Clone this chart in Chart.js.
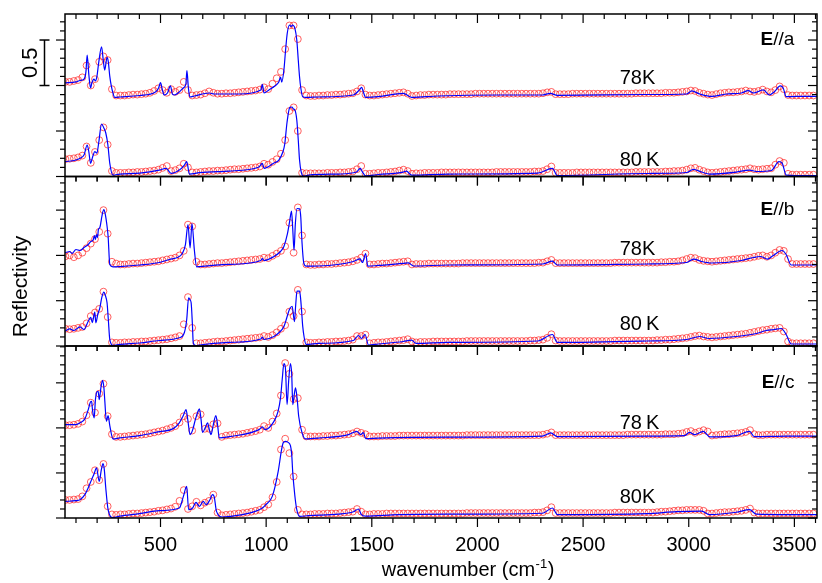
<!DOCTYPE html>
<html>
<head>
<meta charset="utf-8">
<title>Reflectivity spectra</title>
<script src="https://cdn.jsdelivr.net/npm/chart.js@4.4.1/dist/chart.umd.min.js"></script>
<style>
  html, body { margin: 0; padding: 0; background: #fff; }
  #wrap { position: relative; width: 822px; height: 583px; }
</style>
</head>
<body>
<div id="wrap"><canvas id="spectra" width="822" height="583"></canvas></div>
<script>
// wavenumbers (cm-1) of the measured points
const nuGrid = [
  50, 70, 90, 110, 130, 150, 170, 190, 210, 230,
  250, 270, 290, 310, 330, 350, 370, 390, 410, 430,
  450, 470, 490, 510, 530, 550, 570, 590, 610, 630,
  650, 670, 690, 710, 730, 750, 770, 790, 810, 830,
  850, 870, 890, 910, 930, 950, 970, 990, 1010, 1030,
  1050, 1070, 1090, 1110, 1130, 1150, 1170, 1190, 1210, 1230,
  1250, 1270, 1290, 1310, 1330, 1350, 1370, 1390, 1410, 1430,
  1450, 1470, 1490, 1510, 1530, 1550, 1570, 1590, 1610, 1630,
  1650, 1670, 1690, 1710, 1730, 1750, 1770, 1790, 1810, 1830,
  1850, 1870, 1890, 1910, 1930, 1950, 1970, 1990, 2010, 2030,
  2050, 2070, 2090, 2110, 2130, 2150, 2170, 2190, 2210, 2230,
  2250, 2270, 2290, 2310, 2330, 2350, 2370, 2390, 2410, 2430,
  2450, 2470, 2490, 2510, 2530, 2550, 2570, 2590, 2610, 2630,
  2650, 2670, 2690, 2710, 2730, 2750, 2770, 2790, 2810, 2830,
  2850, 2870, 2890, 2910, 2930, 2950, 2970, 2990, 3010, 3030,
  3050, 3070, 3090, 3110, 3130, 3150, 3170, 3190, 3210, 3230,
  3250, 3270, 3290, 3310, 3330, 3350, 3370, 3390, 3410, 3430,
  3450, 3470, 3490, 3510, 3530, 3550, 3570, 3590
];

// measured reflectivity (78K curves shifted up), E//a
const ra78 = [
  1.04, 1.04, 1.05, 1.06, 1.09, 1.22, 1.00, 1.07, 1.26, 1.32,
  1.28, 0.96, 0.89, 0.89, 0.89, 0.895, 0.90, 0.90, 0.905, 0.91,
  0.92, 0.94, 0.97, 0.95, 0.92, 0.96, 0.93, 0.95, 1.04, 0.95,
  0.89, 0.895, 0.90, 0.915, 0.935, 0.92, 0.91, 0.91, 0.915, 0.915,
  0.92, 0.925, 0.93, 0.935, 0.94, 0.945, 0.955, 0.98, 0.96, 1.02,
  1.08, 1.15, 1.40, 1.66, 1.66, 1.51, 0.95, 0.89, 0.885, 0.885,
  0.89, 0.89, 0.895, 0.895, 0.90, 0.90, 0.905, 0.91, 0.915, 0.935,
  0.97, 0.90, 0.89, 0.89, 0.895, 0.90, 0.905, 0.91, 0.915, 0.92,
  0.925, 0.91, 0.885, 0.89, 0.895, 0.895, 0.90, 0.90, 0.90, 0.90,
  0.90, 0.905, 0.905, 0.905, 0.905, 0.905, 0.905, 0.91, 0.91, 0.91,
  0.91, 0.91, 0.91, 0.91, 0.91, 0.91, 0.91, 0.91, 0.91, 0.91,
  0.91, 0.91, 0.91, 0.915, 0.925, 0.93, 0.905, 0.905, 0.905, 0.905,
  0.91, 0.91, 0.91, 0.91, 0.91, 0.91, 0.91, 0.91, 0.91, 0.91,
  0.91, 0.91, 0.91, 0.91, 0.91, 0.915, 0.915, 0.915, 0.915, 0.915,
  0.915, 0.915, 0.92, 0.92, 0.92, 0.925, 0.93, 0.935, 0.945, 0.94,
  0.92, 0.91, 0.90, 0.895, 0.905, 0.915, 0.92, 0.925, 0.925, 0.93,
  0.935, 0.945, 0.935, 0.93, 0.94, 0.955, 0.935, 0.925, 0.95, 0.99,
  0.96, 0.895, 0.89, 0.89, 0.89, 0.89, 0.89, 0.89
];
const ra80 = [
  0.19, 0.195, 0.20, 0.21, 0.23, 0.33, 0.15, 0.27, 0.40, 0.54,
  0.35, 0.06, 0.04, 0.04, 0.04, 0.045, 0.045, 0.05, 0.05, 0.055,
  0.06, 0.065, 0.075, 0.095, 0.115, 0.06, 0.07, 0.09, 0.14, 0.10,
  0.045, 0.045, 0.05, 0.055, 0.06, 0.06, 0.065, 0.065, 0.07, 0.075,
  0.08, 0.08, 0.085, 0.09, 0.095, 0.10, 0.11, 0.14, 0.13, 0.16,
  0.19, 0.25, 0.40, 0.72, 0.76, 0.50, 0.04, 0.035, 0.035, 0.035,
  0.035, 0.035, 0.04, 0.04, 0.04, 0.045, 0.045, 0.05, 0.055, 0.08,
  0.115, 0.03, 0.03, 0.035, 0.04, 0.04, 0.045, 0.05, 0.055, 0.065,
  0.075, 0.06, 0.03, 0.035, 0.035, 0.04, 0.04, 0.04, 0.04, 0.045,
  0.045, 0.045, 0.045, 0.045, 0.045, 0.045, 0.045, 0.045, 0.045, 0.045,
  0.045, 0.045, 0.05, 0.05, 0.05, 0.05, 0.05, 0.05, 0.05, 0.05,
  0.05, 0.055, 0.055, 0.06, 0.08, 0.11, 0.04, 0.04, 0.04, 0.04,
  0.04, 0.045, 0.045, 0.045, 0.045, 0.045, 0.045, 0.045, 0.045, 0.045,
  0.045, 0.045, 0.045, 0.045, 0.045, 0.05, 0.05, 0.05, 0.05, 0.05,
  0.05, 0.05, 0.055, 0.055, 0.06, 0.06, 0.065, 0.075, 0.09, 0.095,
  0.075, 0.06, 0.045, 0.04, 0.045, 0.05, 0.055, 0.06, 0.065, 0.07,
  0.075, 0.08, 0.09, 0.08, 0.075, 0.08, 0.085, 0.09, 0.13, 0.17,
  0.15, 0.03, 0.02, 0.02, 0.02, 0.02, 0.02, 0.02
];

// E//b
const rb78 = [
  0.99, 1.00, 0.98, 1.00, 1.03, 1.08, 1.13, 1.18, 1.26, 1.50,
  1.24, 0.93, 0.91, 0.90, 0.90, 0.905, 0.91, 0.91, 0.915, 0.92,
  0.925, 0.93, 0.935, 0.945, 0.955, 0.965, 0.975, 1.00, 1.05, 1.34,
  1.32, 0.93, 0.90, 0.90, 0.905, 0.91, 0.915, 0.915, 0.92, 0.925,
  0.93, 0.935, 0.94, 0.945, 0.95, 0.955, 0.96, 0.975, 0.97, 0.995,
  1.02, 1.05, 1.10, 1.36, 1.03, 1.53, 1.22, 0.90, 0.895, 0.895,
  0.90, 0.90, 0.905, 0.905, 0.91, 0.915, 0.92, 0.925, 0.935, 0.95,
  0.975, 1.02, 0.90, 0.90, 0.905, 0.91, 0.91, 0.915, 0.92, 0.925,
  0.93, 0.935, 0.90, 0.905, 0.905, 0.905, 0.91, 0.91, 0.91, 0.91,
  0.91, 0.91, 0.91, 0.91, 0.915, 0.915, 0.915, 0.915, 0.915, 0.915,
  0.915, 0.915, 0.915, 0.915, 0.915, 0.915, 0.915, 0.915, 0.915, 0.915,
  0.915, 0.915, 0.92, 0.92, 0.935, 0.95, 0.915, 0.915, 0.915, 0.915,
  0.915, 0.915, 0.915, 0.915, 0.915, 0.915, 0.915, 0.915, 0.915, 0.915,
  0.92, 0.92, 0.92, 0.92, 0.92, 0.92, 0.92, 0.92, 0.92, 0.92,
  0.92, 0.925, 0.925, 0.93, 0.93, 0.935, 0.945, 0.96, 0.975, 0.97,
  0.95, 0.94, 0.935, 0.93, 0.935, 0.94, 0.945, 0.95, 0.955, 0.96,
  0.965, 0.97, 0.975, 0.985, 0.995, 1.00, 0.985, 1.00, 1.03, 1.06,
  1.05, 0.96, 0.905, 0.905, 0.905, 0.905, 0.905, 0.905
];
const rb80 = [
  0.19, 0.185, 0.19, 0.20, 0.21, 0.25, 0.33, 0.37, 0.41, 0.60,
  0.32, 0.04, 0.035, 0.035, 0.04, 0.04, 0.045, 0.045, 0.05, 0.05,
  0.055, 0.06, 0.065, 0.07, 0.075, 0.085, 0.095, 0.11, 0.24, 0.54,
  0.20, 0.03, 0.03, 0.035, 0.04, 0.045, 0.05, 0.05, 0.055, 0.06,
  0.065, 0.07, 0.075, 0.08, 0.085, 0.09, 0.095, 0.11, 0.10, 0.12,
  0.15, 0.19, 0.23, 0.38, 0.33, 0.62, 0.38, 0.04, 0.035, 0.035,
  0.04, 0.04, 0.045, 0.045, 0.05, 0.05, 0.055, 0.06, 0.07, 0.11,
  0.11, 0.125, 0.03, 0.035, 0.04, 0.04, 0.045, 0.05, 0.055, 0.06,
  0.065, 0.075, 0.05, 0.04, 0.045, 0.045, 0.045, 0.05, 0.05, 0.05,
  0.05, 0.05, 0.05, 0.05, 0.05, 0.055, 0.055, 0.055, 0.055, 0.055,
  0.055, 0.055, 0.055, 0.055, 0.055, 0.055, 0.055, 0.055, 0.055, 0.055,
  0.06, 0.06, 0.065, 0.07, 0.09, 0.13, 0.06, 0.055, 0.055, 0.055,
  0.055, 0.055, 0.055, 0.055, 0.055, 0.055, 0.055, 0.055, 0.055, 0.055,
  0.06, 0.06, 0.06, 0.06, 0.06, 0.06, 0.06, 0.06, 0.06, 0.06,
  0.065, 0.065, 0.07, 0.07, 0.075, 0.08, 0.085, 0.09, 0.10, 0.11,
  0.115, 0.105, 0.10, 0.095, 0.10, 0.105, 0.11, 0.115, 0.12, 0.125,
  0.13, 0.135, 0.145, 0.155, 0.165, 0.175, 0.18, 0.19, 0.195, 0.20,
  0.16, 0.05, 0.03, 0.03, 0.03, 0.03, 0.03, 0.03
];

// E//c
const rc78 = [
  1.03, 1.03, 1.035, 1.045, 1.07, 1.14, 1.28, 1.17, 1.38, 1.49,
  1.13, 0.93, 0.90, 0.90, 0.905, 0.91, 0.915, 0.92, 0.925, 0.93,
  0.94, 0.95, 0.96, 0.97, 0.985, 1.00, 1.02, 1.06, 1.13, 1.10,
  0.97, 1.13, 1.15, 0.99, 0.99, 1.04, 1.05, 0.90, 0.915, 0.92,
  0.925, 0.93, 0.935, 0.945, 0.955, 0.965, 0.98, 1.02, 1.00, 1.07,
  1.16, 1.36, 1.72, 1.60, 1.32, 1.33, 0.98, 0.905, 0.905, 0.905,
  0.905, 0.91, 0.91, 0.915, 0.915, 0.92, 0.925, 0.93, 0.94, 0.96,
  0.945, 0.93, 0.905, 0.905, 0.905, 0.91, 0.91, 0.91, 0.91, 0.915,
  0.915, 0.915, 0.915, 0.915, 0.915, 0.915, 0.915, 0.915, 0.915, 0.915,
  0.915, 0.915, 0.915, 0.915, 0.915, 0.92, 0.92, 0.92, 0.92, 0.92,
  0.92, 0.92, 0.92, 0.92, 0.92, 0.92, 0.92, 0.92, 0.92, 0.92,
  0.92, 0.92, 0.92, 0.925, 0.935, 0.95, 0.92, 0.92, 0.92, 0.92,
  0.92, 0.92, 0.92, 0.92, 0.92, 0.92, 0.92, 0.92, 0.92, 0.92,
  0.92, 0.92, 0.92, 0.925, 0.925, 0.925, 0.925, 0.925, 0.925, 0.925,
  0.925, 0.925, 0.93, 0.93, 0.93, 0.935, 0.94, 0.955, 0.965, 0.945,
  0.96, 0.975, 0.96, 0.915, 0.92, 0.925, 0.93, 0.93, 0.935, 0.94,
  0.945, 0.955, 0.975, 0.93, 0.92, 0.92, 0.925, 0.925, 0.925, 0.925,
  0.925, 0.925, 0.925, 0.925, 0.925, 0.925, 0.925, 0.925
];
const rc80 = [
  0.20, 0.20, 0.205, 0.21, 0.24, 0.33, 0.40, 0.53, 0.42, 0.60,
  0.13, 0.04, 0.035, 0.04, 0.04, 0.045, 0.05, 0.05, 0.055, 0.06,
  0.065, 0.07, 0.08, 0.085, 0.095, 0.105, 0.125, 0.19, 0.31, 0.10,
  0.13, 0.18, 0.14, 0.17, 0.19, 0.26, 0.06, 0.03, 0.035, 0.04,
  0.045, 0.05, 0.055, 0.06, 0.07, 0.08, 0.09, 0.12, 0.15, 0.23,
  0.40, 0.76, 0.88, 0.72, 0.46, 0.09, 0.04, 0.04, 0.04, 0.045,
  0.045, 0.045, 0.05, 0.05, 0.05, 0.055, 0.06, 0.065, 0.07, 0.10,
  0.07, 0.04, 0.04, 0.045, 0.045, 0.045, 0.05, 0.05, 0.05, 0.05,
  0.05, 0.05, 0.05, 0.05, 0.05, 0.05, 0.05, 0.05, 0.05, 0.05,
  0.05, 0.05, 0.05, 0.05, 0.05, 0.055, 0.055, 0.055, 0.055, 0.055,
  0.055, 0.055, 0.055, 0.055, 0.055, 0.055, 0.055, 0.055, 0.055, 0.055,
  0.055, 0.06, 0.06, 0.065, 0.085, 0.12, 0.055, 0.055, 0.055, 0.055,
  0.055, 0.055, 0.055, 0.055, 0.055, 0.055, 0.055, 0.055, 0.055, 0.055,
  0.06, 0.06, 0.06, 0.06, 0.06, 0.06, 0.06, 0.06, 0.06, 0.06,
  0.065, 0.07, 0.07, 0.075, 0.08, 0.085, 0.085, 0.09, 0.09, 0.09,
  0.09, 0.08, 0.05, 0.05, 0.055, 0.06, 0.065, 0.065, 0.07, 0.075,
  0.08, 0.09, 0.105, 0.06, 0.05, 0.05, 0.05, 0.05, 0.05, 0.05,
  0.05, 0.05, 0.05, 0.05, 0.05, 0.05, 0.05, 0.05
];

// model fits: [wavenumber, reflectivity]
const fitA78 = [
  [48, 1.03], [100, 1.04], [119, 1.055], [138, 1.07], [147, 1.15], [153, 1.335], [161, 1.115],
  [169, 0.973], [175, 1.027], [185, 1.07], [192, 1.05], [199, 1.10], [208, 1.26], [221, 1.426],
  [229, 1.28], [236, 1.17], [247, 1.31], [253, 1.26], [260, 1.10], [267, 0.995], [275, 0.918],
  [283, 0.87], [307, 0.874], [401, 0.89], [476, 0.929], [491, 0.973], [500, 1.031], [509, 0.951],
  [517, 0.896], [533, 0.918], [547, 0.995], [556, 0.907], [566, 0.896], [589, 0.929], [608, 0.973],
  [620, 1.016], [625, 1.163], [632, 0.973], [639, 0.874], [660, 0.885], [731, 0.918], [754, 0.907],
  [872, 0.907], [975, 0.951], [982, 1.013], [990, 0.918], [1013, 0.951], [1041, 0.995], [1060, 1.038],
  [1068, 1.093], [1074, 1.038], [1084, 1.17], [1092, 1.39], [1100, 1.577], [1111, 1.665], [1119, 1.648],
  [1124, 1.665], [1136, 1.629], [1145, 1.50], [1152, 1.28], [1158, 1.097], [1164, 0.973], [1173, 0.877],
  [1187, 0.87], [1248, 0.874], [1413, 0.896], [1441, 0.951], [1452, 0.98], [1460, 0.929], [1471, 0.87],
  [1531, 0.877], [1649, 0.914], [1688, 0.87], [1814, 0.885], [2096, 0.896], [2308, 0.896], [2345, 0.914],
  [2378, 0.892], [2802, 0.901], [2990, 0.907], [3014, 0.94], [3052, 0.907], [3108, 0.88], [3178, 0.907],
  [3249, 0.918], [3281, 0.943], [3306, 0.918], [3353, 0.951], [3381, 0.896], [3404, 0.929], [3433, 0.995],
  [3447, 0.973], [3461, 0.877], [3508, 0.88], [3607, 0.88]
];
const fitA80 = [
  [48, 0.163], [100, 0.181], [119, 0.20], [138, 0.236], [153, 0.346], [161, 0.269], [169, 0.145],
  [180, 0.225], [189, 0.273], [199, 0.258], [208, 0.379], [221, 0.577], [232, 0.533], [241, 0.478],
  [251, 0.346], [260, 0.145], [275, 0.016], [307, 0.027], [401, 0.038], [495, 0.071], [527, 0.09],
  [550, 0.035], [589, 0.071], [613, 0.126], [624, 0.163], [637, 0.027], [684, 0.042], [825, 0.06],
  [966, 0.104], [982, 0.145], [990, 0.09], [1037, 0.148], [1060, 0.181], [1079, 0.269], [1088, 0.357],
  [1099, 0.599], [1112, 0.76], [1122, 0.764], [1129, 0.742], [1136, 0.731], [1145, 0.621], [1152, 0.401],
  [1158, 0.181], [1166, 0.049], [1178, 0.004], [1201, 0.016], [1343, 0.027], [1428, 0.049], [1445, 0.09],
  [1456, 0.049], [1471, 0.006], [1531, 0.022], [1649, 0.049], [1664, 0.06], [1688, 0.016], [1861, 0.027],
  [2285, 0.038], [2355, 0.09], [2378, 0.011], [2802, 0.033], [2990, 0.044], [3022, 0.079], [3061, 0.049],
  [3100, 0.027], [3225, 0.049], [3287, 0.071], [3320, 0.055], [3391, 0.066], [3427, 0.163], [3442, 0.148],
  [3461, 0.016], [3508, 0.011], [3607, 0.011]
];
const fitB78 = [
  [48, 1.029], [71, 1.043], [81, 1.021], [100, 1.065], [119, 1.054], [138, 1.087], [158, 1.12],
  [170, 1.153], [181, 1.168], [187, 1.22], [192, 1.175], [197, 1.231], [202, 1.198], [206, 1.286],
  [213, 1.308], [220, 1.396], [225, 1.462], [232, 1.507], [239, 1.451], [246, 1.341], [252, 1.212],
  [260, 0.899], [275, 0.874], [307, 0.877], [401, 0.894], [495, 0.922], [542, 0.955], [580, 0.977],
  [603, 1.021], [618, 1.12], [630, 1.341], [640, 1.084], [649, 1.352], [660, 1.065], [671, 0.874],
  [684, 0.877], [825, 0.90], [975, 0.944], [982, 0.966], [990, 0.944], [1037, 0.988], [1068, 1.043],
  [1084, 1.098], [1100, 1.231], [1111, 1.374], [1120, 1.488], [1126, 1.286], [1132, 1.054], [1138, 1.341],
  [1146, 1.518], [1158, 1.514], [1164, 1.418], [1168, 1.212], [1178, 0.918], [1189, 0.881], [1248, 0.883],
  [1413, 0.933], [1445, 0.962], [1456, 0.922], [1471, 1.021], [1481, 0.881], [1531, 0.889], [1649, 0.911],
  [1673, 0.918], [1697, 0.883], [1861, 0.894], [2308, 0.905], [2355, 0.936], [2378, 0.894], [2802, 0.905],
  [2990, 0.922], [3023, 0.96], [3061, 0.933], [3108, 0.916], [3249, 0.944], [3306, 0.977], [3339, 0.988],
  [3372, 0.96], [3400, 0.999], [3442, 1.054], [3461, 1.01], [3485, 0.894], [3607, 0.894]
];
const fitB80 = [
  [48, 0.163], [71, 0.188], [90, 0.171], [119, 0.212], [138, 0.182], [158, 0.274], [170, 0.315],
  [177, 0.259], [189, 0.373], [194, 0.256], [203, 0.348], [213, 0.422], [222, 0.535], [232, 0.594],
  [239, 0.557], [247, 0.477], [253, 0.292], [260, 0.072], [275, 0.006], [307, 0.017], [401, 0.033],
  [495, 0.061], [589, 0.091], [613, 0.149], [624, 0.292], [633, 0.532], [639, 0.513], [645, 0.477],
  [651, 0.237], [655, 0.035], [668, 0.004], [684, 0.011], [825, 0.039], [975, 0.077], [982, 0.099],
  [990, 0.072], [1037, 0.105], [1060, 0.146], [1084, 0.215], [1098, 0.315], [1110, 0.403], [1123, 0.439],
  [1134, 0.27], [1140, 0.458], [1146, 0.605], [1158, 0.607], [1162, 0.55], [1168, 0.381], [1173, 0.219],
  [1180, 0.094], [1189, 0.017], [1248, 0.028], [1413, 0.061], [1437, 0.116], [1451, 0.083], [1468, 0.127],
  [1484, 0.011], [1531, 0.022], [1649, 0.05], [1688, 0.064], [1710, 0.028], [1861, 0.039], [2285, 0.055],
  [2355, 0.127], [2378, 0.039], [2802, 0.055], [2990, 0.072], [3052, 0.105], [3095, 0.083], [3225, 0.105],
  [3320, 0.138], [3367, 0.171], [3404, 0.182], [3438, 0.193], [3461, 0.127], [3485, 0.022], [3607, 0.022]
];
const fitC78 = [
  [48, 1.037], [100, 1.037], [119, 1.056], [142, 1.10], [158, 1.203], [169, 1.29], [174, 1.296],
  [178, 1.203], [186, 1.111], [192, 1.314], [197, 1.389], [205, 1.407], [210, 1.314], [218, 1.448],
  [226, 1.529], [232, 1.448], [236, 1.314], [244, 1.073], [252, 1.137], [260, 1.026], [275, 0.878],
  [307, 0.889], [401, 0.914], [495, 0.959], [558, 0.989], [589, 1.056], [608, 1.137], [621, 1.203],
  [629, 1.092], [640, 0.926], [651, 0.97], [665, 1.092], [677, 1.181], [684, 1.211], [691, 1.114],
  [699, 0.951], [712, 1.003], [723, 1.056], [731, 0.981], [739, 0.926], [750, 1.037], [762, 1.137],
  [770, 1.037], [778, 0.889], [825, 0.903], [966, 0.981], [982, 1.011], [995, 0.981], [1037, 1.073],
  [1056, 1.181], [1068, 1.333], [1076, 1.537], [1084, 1.714], [1091, 1.67], [1099, 1.259], [1107, 1.537],
  [1115, 1.714], [1121, 1.592], [1126, 1.259], [1133, 1.37], [1139, 1.444], [1147, 1.314], [1154, 1.129],
  [1170, 0.944], [1186, 0.878], [1248, 0.887], [1390, 0.926], [1429, 0.962], [1447, 0.926], [1460, 0.948],
  [1471, 0.881], [1531, 0.887], [1861, 0.898], [2308, 0.909], [2347, 0.944], [2378, 0.903], [2802, 0.909],
  [2981, 0.914], [3003, 0.951], [3028, 0.926], [3069, 0.962], [3100, 0.90], [3225, 0.914], [3288, 0.962],
  [3310, 0.903], [3461, 0.909], [3607, 0.909]
];
const fitC80 = [
  [48, 0.184], [100, 0.192], [119, 0.203], [142, 0.259], [158, 0.337], [174, 0.426], [186, 0.492],
  [197, 0.556], [210, 0.407], [220, 0.537], [228, 0.603], [234, 0.537], [241, 0.333], [252, 0.092],
  [275, 0.004], [307, 0.02], [401, 0.048], [495, 0.081], [589, 0.111], [608, 0.237], [624, 0.351],
  [633, 0.092], [652, 0.111], [668, 0.173], [684, 0.129], [702, 0.184], [716, 0.148], [734, 0.203],
  [746, 0.259], [754, 0.237], [765, 0.073], [793, 0.011], [872, 0.031], [982, 0.111], [998, 0.148],
  [1029, 0.24], [1057, 0.518], [1073, 0.759], [1081, 0.837], [1092, 0.851], [1102, 0.842], [1115, 0.803],
  [1121, 0.703], [1126, 0.50], [1133, 0.314], [1138, 0.203], [1145, 0.092], [1158, 0.018], [1201, 0.026],
  [1343, 0.042], [1413, 0.07], [1437, 0.10], [1451, 0.037], [1470, 0.02], [1626, 0.037], [1861, 0.042],
  [2308, 0.053], [2355, 0.111], [2378, 0.037], [2802, 0.048], [2943, 0.07], [3061, 0.076], [3100, 0.037],
  [3225, 0.064], [3288, 0.092], [3320, 0.042], [3461, 0.037], [3607, 0.037]
];

const xTickLabels = [500, 1000, 1500, 2000, 2500, 3000, 3500];

const FONT = '"Liberation Sans", Arial, Helvetica, sans-serif';

// one entry per stacked panel, top to bottom
const panels = [
  { axis: 'yA', pol: 'a', max: 1.786, h: 162.5, fit78: fitA78, fit80: fitA80, pts78: ra78, pts80: ra80,
    t78: '78K', t80: '80\u2009K', y78: 1.075, y80: 0.18 },
  { axis: 'yB', pol: 'b', max: 1.871, h: 169.5, fit78: fitB78, fit80: fitB80, pts78: rb78, pts80: rb80,
    t78: '78K', t80: '80\u2009K', y78: 1.065, y80: 0.235 },
  { axis: 'yC', pol: 'c', max: 1.909, h: 172, fit78: fitC78, fit80: fitC80, pts78: rc78, pts80: rc80,
    t78: '78\u2009K', t80: '80K', y78: 1.05, y80: 0.233 }
];

function fitLine(pairs, axis) {
  return {
    type: 'line',
    data: pairs.map(([x, y]) => ({ x, y })),
    yAxisID: axis,
    borderColor: '#0000ff',
    borderWidth: 1.2,
    pointRadius: 0,
    fill: false,
    cubicInterpolationMode: 'monotone',
    order: 1
  };
}

function measured(values, axis) {
  return {
    type: 'scatter',
    data: values.map((y, i) => ({ x: nuGrid[i], y })),
    yAxisID: axis,
    showLine: false,
    pointStyle: 'circle',
    pointRadius: 3.4,
    borderWidth: 1,
    borderColor: 'rgba(255, 35, 35, 0.72)',
    backgroundColor: 'rgba(0, 0, 0, 0)',
    order: 2
  };
}

const datasets = [];
panels.forEach(p => {
  datasets.push(measured(p.pts78, p.axis), measured(p.pts80, p.axis));
  datasets.push(fitLine(p.fit78, p.axis), fitLine(p.fit80, p.axis));
});

function panelScale(p, i) {
  return {
    type: 'linear',
    position: 'left',
    stack: 'panels',
    stackWeight: p.h,
    weight: panels.length - i,
    min: 0,
    max: p.max,
    grid: { display: false, drawTicks: false },
    border: { display: false },
    ticks: { display: false, stepSize: 0.1, includeBounds: false }
  };
}

const scales = {
  x: {
    type: 'linear',
    position: 'bottom',
    min: 48,
    max: 3607,
    grid: { display: false, drawTicks: false },
    border: { display: false },
    afterBuildTicks: s => { s.ticks = xTickLabels.map(v => ({ value: v })); },
    ticks: { display: false }
  }
};
panels.forEach((p, i) => { scales[p.axis] = panelScale(p, i); });

function seg(ctx, x0, y0, x1, y1) {
  ctx.beginPath();
  ctx.moveTo(x0, y0);
  ctx.lineTo(x1, y1);
  ctx.stroke();
}

// panel frames, ticks, labels and axis titles
const framePlugin = {
  id: 'frames',
  afterDraw(chart) {
    const { ctx, chartArea: area, scales: sc } = chart;
    const xs = sc.x;
    ctx.save();
    ctx.strokeStyle = '#000';
    ctx.fillStyle = '#000';

    panels.forEach(p => {
      const ys = sc[p.axis];
      ctx.lineWidth = 1.5;
      ctx.strokeRect(area.left, ys.top, area.right - area.left, ys.bottom - ys.top);

      ctx.lineWidth = 1.2;
      // y ticks, pointing left on both sides
      ys.ticks.forEach(t => {
        const py = ys.getPixelForValue(t.value);
        const major = Math.abs(t.value * 2 - Math.round(t.value * 2)) < 1e-6;
        const len = major ? 9 : 5;
        seg(ctx, area.left - len, py, area.left, py);
        seg(ctx, area.right - len, py, area.right, py);
      });
      // x ticks, pointing down from the top and bottom edges
      for (let v = 100; v <= xs.max; v += 100) {
        const px = xs.getPixelForValue(v);
        const len = v % 500 === 0 ? 9 : 5;
        seg(ctx, px, ys.top, px, ys.top + len);
        seg(ctx, px, ys.bottom, px, ys.bottom + len);
      }

      // polarisation label, bold E
      const ly = ys.getPixelForValue(1.5);
      const rx = xs.getPixelForValue(3500);
      ctx.textBaseline = 'middle';
      ctx.textAlign = 'left';
      ctx.font = 'bold 19px ' + FONT;
      const wE = ctx.measureText('E').width;
      ctx.font = '19px ' + FONT;
      const rest = '//' + p.pol;
      const wR = ctx.measureText(rest).width;
      ctx.font = 'bold 19px ' + FONT;
      ctx.fillText('E', rx - wE - wR, ly);
      ctx.font = '19px ' + FONT;
      ctx.fillText(rest, rx - wR, ly);

      // temperature labels
      ctx.font = '20px ' + FONT;
      const tx = xs.getPixelForValue(2673);
      ctx.fillText(p.t78, tx, ys.getPixelForValue(p.y78));
      ctx.fillText(p.t80, tx, ys.getPixelForValue(p.y80));
    });

    // x tick labels
    ctx.font = '20px ' + FONT;
    ctx.textAlign = 'center';
    ctx.textBaseline = 'alphabetic';
    xTickLabels.forEach(v => ctx.fillText(String(v), xs.getPixelForValue(v), 551));

    // 0.5 scale bar on the top panel
    const ya = sc.yA;
    const b0 = ya.getPixelForValue(1.0), b1 = ya.getPixelForValue(1.5);
    ctx.lineWidth = 1.5;
    seg(ctx, 44.5, b0, 44.5, b1);
    seg(ctx, 39.5, b0, 49.5, b0);
    seg(ctx, 39.5, b1, 49.5, b1);
    ctx.save();
    ctx.translate(36.5, (b0 + b1) / 2);
    ctx.rotate(-Math.PI / 2);
    ctx.textAlign = 'center';
    ctx.textBaseline = 'alphabetic';
    ctx.font = '22px ' + FONT;
    ctx.fillText('0.5', 0, 0);
    ctx.restore();

    // y title
    ctx.save();
    ctx.translate(27, 286.5);
    ctx.rotate(-Math.PI / 2);
    ctx.textAlign = 'center';
    ctx.textBaseline = 'alphabetic';
    ctx.font = '21px ' + FONT;
    ctx.fillText('Reflectivity', 0, 0);
    ctx.restore();

    // x title with superscript
    const main = 'wavenumber (cm', sup = '-1', tail = ')';
    ctx.textAlign = 'left';
    ctx.textBaseline = 'alphabetic';
    ctx.font = '20px ' + FONT;
    const w1 = ctx.measureText(main).width, w3 = ctx.measureText(tail).width;
    ctx.font = '13px ' + FONT;
    const w2 = ctx.measureText(sup).width;
    let sx = 467.5 - (w1 + w2 + w3) / 2;
    const base = 576;
    ctx.font = '20px ' + FONT;
    ctx.fillText(main, sx, base);
    sx += w1;
    ctx.font = '13px ' + FONT;
    ctx.fillText(sup, sx + 0.5, base - 8);
    sx += w2 + 1;
    ctx.font = '20px ' + FONT;
    ctx.fillText(tail, sx, base);

    ctx.restore();
  }
};

new Chart(document.getElementById('spectra'), {
  type: 'scatter',
  data: { datasets },
  options: {
    responsive: false,
    animation: false,
    events: [],
    layout: { padding: { left: 65, right: 1, top: 14, bottom: 65 } },
    plugins: { legend: { display: false }, tooltip: { enabled: false } },
    scales
  },
  plugins: [framePlugin]
});
</script>
</body>
</html>
